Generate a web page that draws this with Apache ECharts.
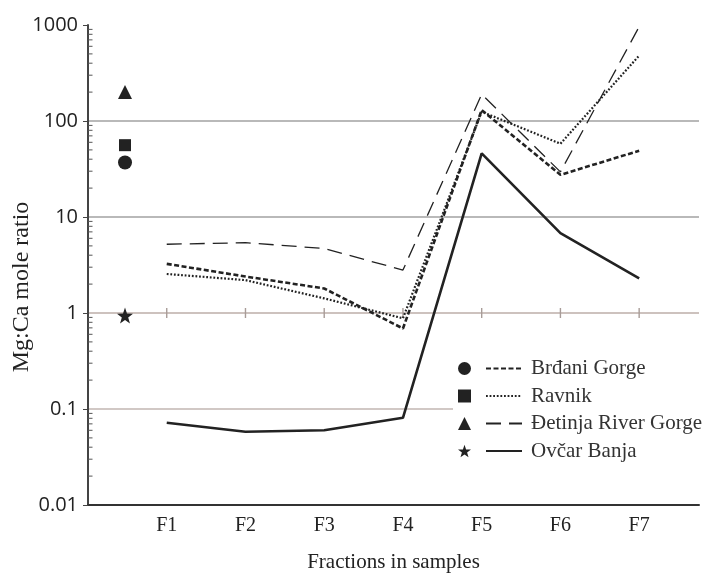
<!DOCTYPE html>
<html>
<head>
<meta charset="utf-8">
<style>
    html, body { margin: 0; padding: 0; background: #fff; }
    #main { width: 703px; height: 578px; }
</style>
<script src="https://cdn.jsdelivr.net/npm/echarts@6/dist/echarts.min.js"></script>
</head>
<body>
<div id="main"></div>
<script>
// data
var fractions = ['F1', 'F2', 'F3', 'F4', 'F5', 'F6', 'F7'];
var sites = ['Brđani Gorge', 'Ravnik', 'Đetinja River Gorge', 'Ovčar Banja'];
var brdjani = [3.25, 2.4, 1.8, 0.69, 130, 27.5, 49];
var ravnik = [2.55, 2.2, 1.42, 0.88, 125, 58, 480];
var detinja = [5.2, 5.4, 4.7, 2.8, 190, 29.5, 960];
var ovcar = [0.072, 0.058, 0.06, 0.081, 46, 6.8, 2.3];
// bulk sample ratio, drawn as a lone marker left of F1
var bulk = [37, 56, 200, 0.94];
var bulkX = 0.47;
var yTicks = [0.01, 0.1, 1, 10, 100, 1000];

(function () {
    var myChart = echarts.init(document.getElementById('main'));
    var serif = '"Liberation Serif", "DejaVu Serif", serif';
    var ink = '#222';

    var starPath = 'path://M0,-10 L2.35,-3.24 9.51,-3.09 3.8,1.24 5.88,8.09 0,4 -5.88,8.09 -3.8,1.24 -9.51,-3.09 -2.35,-3.24Z';
    var markers = ['circle', 'rect', 'triangle', starPath];
    var markerSizes = [14, 12, 14, 16];
    var lineStyles = [
        { width: 2.6, type: [5, 2.5] },
        { width: 2.2, type: [1.8, 1.8] },
        { width: 1.3, type: [15, 8] },
        { width: 2.6, type: 'solid' }
    ];
    var values = [brdjani, ravnik, detinja, ovcar];

    // log minor ticks 2..9 in every decade
    var minorTicks = [];
    for (var d = 0; d < yTicks.length - 1; d++) {
        for (var m = 2; m <= 9; m++) {
            minorTicks.push([0, yTicks[d] * m]);
        }
    }

    var series = [];
    // the F-lines
    sites.forEach(function (name, i) {
        series.push({
            name: name,
            type: 'line',
            symbol: 'none',
            silent: true,
            z: 3,
            lineStyle: {
                color: ink,
                width: lineStyles[i].width,
                type: lineStyles[i].type
            },
            itemStyle: { color: ink },
            data: values[i].map(function (v, k) {
                return [k + 1, v];
            })
        });
    });
    // single markers of the bulk samples
    sites.forEach(function (name, i) {
        series.push({
            name: name + ' (bulk)',
            type: 'scatter',
            symbol: markers[i],
            symbolSize: markerSizes[i],
            itemStyle: { color: ink, opacity: 1 },
            z: 4,
            data: [[bulkX, bulk[i]]]
        });
    });
    // small ticks on the ratio = 1 line
    series.push({
        type: 'scatter',
        silent: true,
        symbol: 'rect',
        symbolSize: [1.4, 10],
        itemStyle: { color: '#a89c98', opacity: 1 },
        z: 1,
        data: fractions.map(function (f, k) {
            return [k + 1, 1];
        })
    });
    // minor ticks inside the y axis
    series.push({
        type: 'custom',
        silent: true,
        z: 3,
        encode: { x: 0, y: 1 },
        renderItem: function (params, api) {
            var p = api.coord([0, api.value(1)]);
            return {
                type: 'line',
                shape: { x1: p[0], y1: p[1], x2: p[0] + 4.5, y2: p[1] },
                style: { stroke: '#555', lineWidth: 1 }
            };
        },
        data: minorTicks
    });

    var legendText = {
        fontFamily: serif,
        fontSize: 21,
        lineHeight: 20,
        color: '#333'
    };

    var option = {
        animation: false,
        backgroundColor: '#fff',
        grid: {
            left: 88,
            right: 4,
            top: 25,
            bottom: 73,
            outerBoundsMode: 'none'
        },
        // white box behind the legend hides the 0.1 grid line
        graphic: [{
            type: 'rect',
            left: 453,
            top: 345,
            z: 1,
            shape: { width: 250, height: 120 },
            style: { fill: '#fff' }
        }],
        legend: [{
            // markers column
            orient: 'vertical',
            left: 458,
            top: 358,
            padding: 0,
            itemWidth: 13,
            itemHeight: 13,
            itemGap: 6.5,
            selectedMode: false,
            formatter: function () { return ' '; },
            textStyle: legendText,
            data: sites.map(function (s) { return s + ' (bulk)'; })
        }, {
            // line style column with names
            orient: 'vertical',
            left: 485,
            top: 358,
            padding: 0,
            itemWidth: 36,
            itemHeight: 13,
            itemGap: 6.5,
            selectedMode: false,
            itemStyle: {
                color: 'rgba(0,0,0,0)',
                borderColor: 'rgba(0,0,0,0)',
                borderWidth: 0
            },
            textStyle: {
                fontFamily: serif,
                fontSize: 21,
                lineHeight: 20,
                color: '#333',
                padding: [0, 0, 0, 4]
            },
            data: sites
        }],
        xAxis: {
            type: 'value',
            min: 0,
            max: 7.76,
            interval: 1,
            name: 'Fractions in samples',
            nameLocation: 'middle',
            nameGap: 47,
            nameTextStyle: {
                fontFamily: serif,
                fontSize: 21,
                color: ink
            },
            axisLine: {
                lineStyle: { color: '#333', width: 2 }
            },
            axisTick: { show: false },
            splitLine: { show: false },
            axisLabel: {
                margin: 11,
                fontFamily: serif,
                fontSize: 20,
                color: ink,
                showMaxLabel: false,
                formatter: function (v) {
                    return fractions[v - 1] || '';
                }
            }
        },
        yAxis: {
            type: 'log',
            logBase: 10,
            min: 0.01,
            max: 1000,
            name: 'Mg:Ca mole ratio',
            nameLocation: 'middle',
            nameGap: 54,
            nameMoveOverlap: false,
            nameTextStyle: {
                fontFamily: serif,
                fontSize: 24,
                color: ink,
                padding: [0, 44, 0, 0]
            },
            axisLine: {
                show: true,
                lineStyle: { color: '#444', width: 2 }
            },
            axisTick: {
                show: true,
                length: 5,
                lineStyle: { color: '#444', width: 1 }
            },
            axisLabel: {
                margin: 10,
                fontFamily: '"Open Sans", sans-serif',
                fontSize: 20,
                color: ink,
                formatter: function (v) {
                    return String(+v.toPrecision(3));
                }
            },
            splitLine: {
                show: true,
                lineStyle: {
                    width: 1.5,
                    color: ['rgba(0,0,0,0)', '#c2b6b2', '#bcaea9', '#a2a2a2', '#a2a2a2', 'rgba(0,0,0,0)']
                }
            }
        },
        series: series
    };
    myChart.setOption(option);
    window.addEventListener('resize', function () {
        myChart.resize();
    });
})();
</script>
</body>
</html>
